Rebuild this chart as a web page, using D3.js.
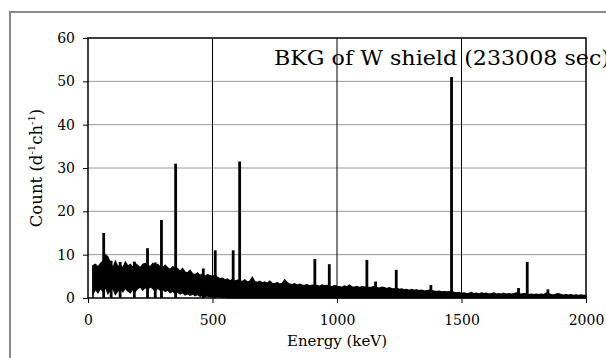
<!DOCTYPE html>
<html><head><meta charset="utf-8">
<script src="https://cdn.jsdelivr.net/npm/d3@7"></script>
<style>body{margin:0;background:#fff}svg{display:block}</style>
</head><body>
<script>
// Spectrum continuum sampled every 10 keV from 20 keV to 2000 keV
const energyKeV = d3.range(20, 2001, 10);
const upperCount = [
7.5,7.8,7.2,8.0,8.5,10.0,9.5,8.0,7.0,8.5,
7.2,7.6,7.0,8.3,7.4,7.8,7.1,8.0,7.5,7.0,
7.8,8.0,7.6,7.2,8.0,7.4,7.8,7.2,7.0,7.6,
7.0,6.6,7.2,7.0,6.8,6.2,6.8,6.0,5.8,6.4,
5.6,5.4,5.8,5.2,5.6,5.0,5.4,5.2,5.0,5.3,
4.8,4.5,4.6,4.2,4.4,4.0,4.3,3.9,4.1,4.0,
3.8,4.2,3.7,3.9,4.8,3.8,3.6,3.9,3.5,3.7,
3.4,3.9,3.4,3.3,3.6,3.2,3.4,4.2,3.6,3.2,
3.1,3.3,3.0,3.2,3.0,2.9,3.1,2.8,3.0,3.0,
2.9,2.7,3.0,2.8,2.9,2.8,2.6,2.9,2.7,2.6,
2.5,2.8,2.6,3.0,2.6,2.5,2.7,2.4,2.6,2.5,
2.6,2.4,2.5,2.7,2.4,2.3,2.5,2.4,2.2,2.4,
2.2,2.1,2.3,2.0,2.1,1.9,2.0,1.8,2.0,1.8,
1.9,1.7,1.8,1.6,1.7,1.8,1.7,1.6,1.5,1.6,
1.4,1.5,1.4,1.5,1.5,1.3,1.2,1.3,1.1,1.2,
1.0,1.1,1.3,1.0,1.1,0.9,1.2,1.0,1.1,0.9,
1.0,1.2,0.9,1.0,0.9,1.1,0.9,1.0,0.9,1.0,
1.2,1.0,0.9,1.0,1.0,0.8,0.9,0.8,0.9,0.8,
0.9,0.8,1.1,1.0,0.8,0.7,0.9,1.0,0.8,0.7,
0.8,0.7,0.8,0.6,0.7,0.6,0.7,0.6,0.6
];
// lower edge of the noise band (20..550 keV); zero above
const lowerCount = [
1.0,2.0,1.2,2.2,1.5,2.5,1.0,1.8,2.2,0.8,
1.6,2.0,1.4,2.2,1.6,1.2,2.0,1.5,2.2,2.5,
1.8,2.4,2.0,2.6,2.2,1.6,2.3,1.8,2.0,1.5,
1.8,1.2,1.6,1.0,1.4,0.9,1.2,0.7,1.0,0.6,
0.9,0.5,0.8,0.4,0.6,0.3,0.5,0.2,0.4,0.1,
0.3,0.2,0.1,0.2
];
// gamma peaks
const peakEnergy = [63, 93, 129, 186, 239, 270, 295, 352, 463, 511, 583, 609, 911, 969, 1120, 1155, 1238, 1377, 1460, 1729, 1764, 1847];
const peakCount  = [15, 8.6, 8.3, 8.4, 11.5, 8.2, 18, 31, 6.8, 11, 11, 31.5, 9, 7.8, 8.8, 3.8, 6.5, 3.0, 51, 2.3, 8.3, 2.0];

const xTicks = [0, 500, 1000, 1500, 2000];
const yTicks = [0, 10, 20, 30, 40, 50, 60];
const xGrid = [500, 1000, 1500];
const yGrid = [10, 20, 30, 40, 50];
const title = "BKG of W shield (233008 sec)";

const W = 606, H = 358;
const svg = d3.select("body").append("svg").attr("width", W).attr("height", H);
svg.append("rect").attr("width", W).attr("height", H).attr("fill", "#fff");
svg.append("rect").attr("x", 10).attr("y", 12).attr("width", 640).attr("height", 400)
  .attr("fill", "none").attr("stroke", "#8a8a8a").attr("stroke-width", 2);

const x = d3.scaleLinear().domain([0, 2000]).range([88, 586]);
const y = d3.scaleLinear().domain([0, 60]).range([298, 38]);
const serif = "'DejaVu Serif', 'Liberation Serif', serif";

svg.append("g").selectAll("line").data(yGrid).join("line")
  .attr("x1", 88).attr("x2", 586).attr("y1", d => y(d)).attr("y2", d => y(d))
  .attr("stroke", "#9a9a9a").attr("stroke-width", 1);
svg.append("g").selectAll("line").data(xGrid).join("line")
  .attr("x1", d => x(d)).attr("x2", d => x(d)).attr("y1", 38).attr("y2", 298)
  .attr("stroke", "#000").attr("stroke-width", 1);

const data = energyKeV.map((e, i) => ({e, hi: upperCount[i], lo: i < lowerCount.length ? lowerCount[i] : 0}));
svg.append("path").datum(data)
  .attr("d", d3.area().x(d => x(d.e)).y0(d => y(d.lo)).y1(d => y(d.hi)))
  .attr("fill", "#000").attr("stroke", "#000").attr("stroke-width", 1.2);
svg.append("line").attr("x1", x(energyKeV[0])).attr("x2", x(energyKeV[0]))
  .attr("y1", y(0)).attr("y2", y(upperCount[0])).attr("stroke", "#000").attr("stroke-width", 1.5);

svg.append("g").selectAll("line").data(peakEnergy).join("line")
  .attr("x1", d => x(d)).attr("x2", d => x(d))
  .attr("y1", (d, i) => y(0)).attr("y2", (d, i) => y(peakCount[i]))
  .attr("stroke", "#000").attr("stroke-width", 2.8);

svg.append("rect").attr("x", 88).attr("y", 38).attr("width", 498).attr("height", 260)
  .attr("fill", "none").attr("stroke", "#000").attr("stroke-width", 1.5);

const gy = svg.append("g").attr("transform", "translate(88,0)")
  .call(d3.axisLeft(y).tickValues(yTicks).tickSize(5).tickPadding(8));
gy.select(".domain").remove();
gy.selectAll("text").attr("font-family", serif).attr("font-size", 14).attr("fill", "#000");

const gx = svg.append("g").attr("transform", "translate(0,298)")
  .call(d3.axisBottom(x).tickValues(xTicks).tickSize(5).tickPadding(12).tickFormat(d3.format("d")));
gx.select(".domain").remove();
gx.selectAll("text").attr("font-family", serif).attr("font-size", 14).attr("fill", "#000");

svg.append("text").attr("x", 337).attr("y", 346).attr("text-anchor", "middle")
  .attr("font-family", serif).attr("font-size", 15).text("Energy (keV)");

const yl = svg.append("text").attr("transform", "translate(42,168) rotate(-90)")
  .attr("text-anchor", "middle").attr("font-family", serif).attr("font-size", 16.5);
yl.append("tspan").text("Count (d");
yl.append("tspan").attr("font-size", 10).attr("dy", -7).text("-1");
yl.append("tspan").attr("dy", 7).text("ch");
yl.append("tspan").attr("font-size", 10).attr("dy", -7).text("-1");
yl.append("tspan").attr("dy", 7).text(")");

svg.append("text").attr("x", 274).attr("y", 65).attr("font-family", serif)
  .attr("font-size", 21).attr("textLength", 336).attr("lengthAdjust", "spacingAndGlyphs")
  .text(title);
</script>
</body></html>
